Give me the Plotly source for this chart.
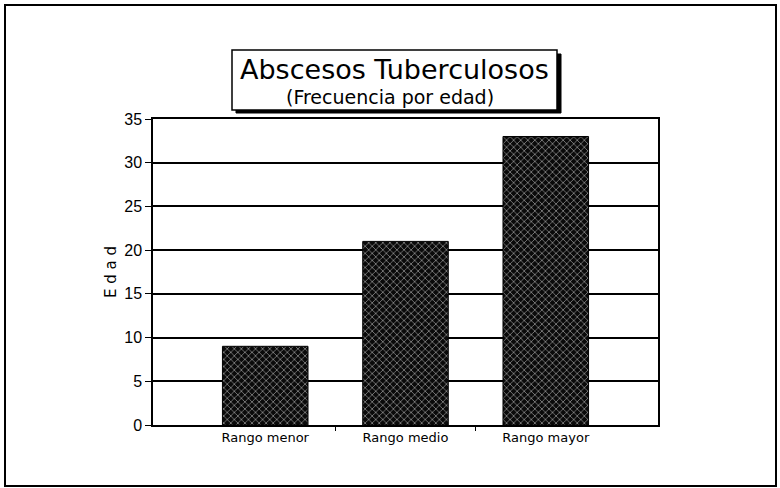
import plotly.graph_objects as go

categories = ["Rango menor", "Rango medio", "Rango mayor"]
values = [9, 21, 33]
y_ticks = [0, 5, 10, 15, 20, 25, 30, 35]
title_main = "Abscesos Tuberculosos"
title_sub = "(Frecuencia por edad)"
y_title = "E d a d"

W, H = 780, 488
L, R, T, B = 153, 122, 119, 63
pw, ph = W - L - R, H - T - B

def px(x):
    return (x - L) / pw

def py(y):
    return (H - B - y) / ph

fig = go.Figure()
fig.add_trace(go.Bar(
    x=list(range(len(categories))), y=values,
    width=0.61,
    marker=dict(color="#111111", line=dict(color="black", width=1),
                pattern=dict(shape="x", fgcolor="white", bgcolor="#0a0a0a",
                             size=5, solidity=0.3)),
    showlegend=False,
))
fig.add_trace(go.Scatter(x=[0.5, 1.5], y=[0, 0], xaxis="x2", mode="markers",
                         marker=dict(opacity=0), showlegend=False, hoverinfo="skip"))

fig.update_layout(
    width=W, height=H,
    margin=dict(l=L, r=R, t=T, b=B, pad=0),
    paper_bgcolor="white", plot_bgcolor="white",
    font=dict(family="Liberation Sans", color="black"),
    xaxis=dict(range=[-0.8, 2.8], tickvals=list(range(len(categories))),
               ticktext=categories, ticks="", showgrid=False, zeroline=False,
               showline=True, linecolor="black", linewidth=1.5, mirror=True,
               tickfont=dict(size=13, family="DejaVu Sans")),
    xaxis2=dict(overlaying="x", range=[-0.8, 2.8], tickvals=[0.5, 1.5],
                showticklabels=False, ticks="outside", ticklen=5, tickcolor="black",
                showgrid=False, zeroline=False, anchor="y", side="bottom"),
    yaxis=dict(range=[0, 35], tickvals=y_ticks, ticks="outside", ticklen=6,
               tickcolor="black", showgrid=True, gridcolor="black", gridwidth=1.5,
               zeroline=False, showline=True, linecolor="black", linewidth=1.5,
               mirror=True, tickfont=dict(size=16, family="Liberation Sans"),
               title=dict(text=y_title, font=dict(size=15, family="DejaVu Sans"),
                          standoff=4)),
    bargap=0.4,
)

# outer frame
fig.add_shape(type="rect", xref="paper", yref="paper",
              x0=px(5), x1=px(776), y0=py(486), y1=py(5),
              line=dict(color="black", width=2), layer="below")
# title box shadow and box
fig.add_shape(type="rect", xref="paper", yref="paper",
              x0=px(236), x1=px(561), y0=py(113), y1=py(54),
              line=dict(color="black", width=1), fillcolor="black")
fig.add_shape(type="rect", xref="paper", yref="paper",
              x0=px(232), x1=px(557), y0=py(110), y1=py(50),
              line=dict(color="black", width=1.5), fillcolor="white")
fig.add_annotation(xref="paper", yref="paper", x=px(394), y=py(70),
                   xanchor="center", yanchor="middle",
                   text=title_main, showarrow=False,
                   font=dict(size=27, family="DejaVu Sans"))
fig.add_annotation(xref="paper", yref="paper", x=px(390), y=py(97),
                   xanchor="center", yanchor="middle",
                   text=title_sub, showarrow=False,
                   font=dict(size=19, family="DejaVu Sans"))

fig.write_html("out.html", config={"displayModeBar": False},
               post_script="document.body.style.margin='0px';document.body.style.overflow='hidden';")
